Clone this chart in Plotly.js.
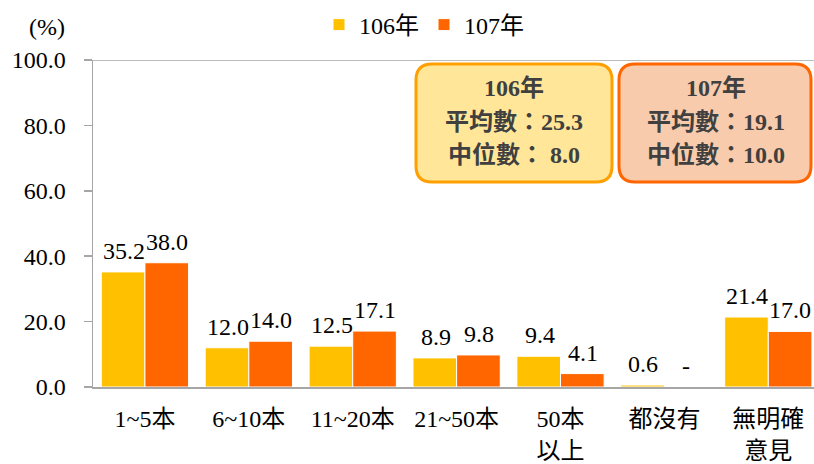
<!DOCTYPE html>
<html>
<head>
<meta charset="utf-8">
<script src="https://cdn.plot.ly/plotly-3.0.1.min.js"></script>
<style>html,body{margin:0;padding:0;background:#fff;}#chart{width:814px;height:464px;}</style>
</head>
<body>
<div id="chart"></div>
<script>
const categories = ["1~5本", "6~10本", "11~20本", "21~50本", "50本<br>以上", "都沒有", "無明確<br>意見"];
const values106 = [35.2, 12.0, 12.5, 8.9, 9.4, 0.6, 21.4];
const values107 = [38.0, 14.0, 17.1, 9.8, 4.1, 0, 17.0];
const labels106 = ["35.2", "12.0", "12.5", "8.9", "9.4", "0.6", "21.4"];
const labels107 = ["38.0", "14.0", "17.1", "9.8", "4.1", "-", "17.0"];
const seriesNames = ["106年", "107年"];
const yTicks = [0, 20, 40, 60, 80, 100];
const yTickText = ["0.0", "20.0", "40.0", "60.0", "80.0", "100.0"];
const box106Lines = ["106年", "平均數：25.3", "中位數： 8.0"];
const box107Lines = ["107年", "平均數：19.1", "中位數：10.0"];

const serif = "'Liberation Serif', 'Times New Roman', 'Noto Sans CJK TC', serif";
const C106 = "#FFC000", C107 = "#FF6600";

const traces = [
  {type: "bar", name: seriesNames[0], x: categories, y: values106,
   marker: {color: C106, line: {color: "#ffffff", width: 1}}, hoverinfo: "none"},
  {type: "bar", name: seriesNames[1], x: categories, y: values107,
   marker: {color: C107, line: {color: "#ffffff", width: 1}}, hoverinfo: "none"}
];

const annotations = [];
categories.forEach((c, i) => {
  annotations.push({x: c, y: values106[i], xref: "x", yref: "y", text: labels106[i], showarrow: false,
    xshift: -21, yshift: 6, yanchor: "bottom", xanchor: "center", font: {family: serif, size: 24, color: "#000"}});
  annotations.push({x: c, y: values107[i], xref: "x", yref: "y", text: labels107[i], showarrow: false,
    xshift: 22, yshift: 6, yanchor: "bottom", xanchor: "center", font: {family: serif, size: 24, color: "#000"}});
});

// pixel helpers -> paper
const L = 93, T = 60, W = 721, H = 327;
const px = x => (x - L) / W;
const py = y => (T + H - y) / H;

annotations.push({x: px(47), y: py(27), xref: "paper", yref: "paper", text: "(%)", showarrow: false,
  xanchor: "center", yanchor: "middle", font: {family: serif, size: 24, color: "#000"}});

const boxLineY = [88, 122, 154];
box106Lines.forEach((t, i) => annotations.push({x: px(514), y: py(boxLineY[i]), xref: "paper", yref: "paper",
  xanchor: "center", yanchor: "middle",
  text: "<b>" + t + "</b>", showarrow: false, font: {family: serif, size: 24, color: "#404040"}}));
box107Lines.forEach((t, i) => annotations.push({x: px(716), y: py(boxLineY[i]), xref: "paper", yref: "paper",
  xanchor: "center", yanchor: "middle",
  text: "<b>" + t + "</b>", showarrow: false, font: {family: serif, size: 24, color: "#404040"}}));

function roundRect(x0p, y0p, x1p, y1p, r) {
  const x0 = px(x0p), x1 = px(x1p), y0 = py(y1p), y1 = py(y0p);
  const rx = r / W, ry = r / H;
  return `M ${x0+rx},${y1} L ${x1-rx},${y1} Q ${x1},${y1} ${x1},${y1-ry} L ${x1},${y0+ry} Q ${x1},${y0} ${x1-rx},${y0} L ${x0+rx},${y0} Q ${x0},${y0} ${x0},${y0+ry} L ${x0},${y1-ry} Q ${x0},${y1} ${x0+rx},${y1} Z`;
}

const shapes = [
  {type: "line", xref: "paper", yref: "y", x0: 0, x1: 1, y0: 100, y1: 100, line: {color: "#a6a6a6", width: 1.5}},
  {type: "path", xref: "paper", yref: "paper", path: roundRect(416, 64, 612, 182, 16),
   fillcolor: "#FFE699", line: {color: "#FFA000", width: 3}},
  {type: "path", xref: "paper", yref: "paper", path: roundRect(619, 64, 811, 182, 16),
   fillcolor: "#F8CBAD", line: {color: "#FF6600", width: 3}}
];

const layout = {
  width: 814, height: 464,
  margin: {l: L, r: 0, t: T, b: 464 - T - H, pad: 0},
  paper_bgcolor: "#fff", plot_bgcolor: "#fff",
  barmode: "group", bargap: 0.16, bargroupgap: 0,
  showlegend: true,
  legend: {orientation: "h", x: px(424), xanchor: "center", y: py(25), yanchor: "middle",
    font: {family: serif, size: 24, color: "#000"}, itemwidth: 30, bgcolor: "rgba(0,0,0,0)"},
  xaxis: {type: "category", range: [-0.5, 6.44], showgrid: false, showline: true, linecolor: "#a6a6a6", linewidth: 1.5,
    ticks: "", ticklabelstandoff: 10, tickfont: {family: serif, size: 24, color: "#000"}, zeroline: false, fixedrange: true},
  yaxis: {range: [0, 100], tickvals: yTicks, ticktext: yTickText, showgrid: false, zeroline: false,
    showline: true, linecolor: "#a6a6a6", linewidth: 1.5, ticks: "outside", ticklen: 8, tickcolor: "#a6a6a6", tickwidth: 1.5,
    ticklabelstandoff: 13, tickfont: {family: serif, size: 24, color: "#000"}, fixedrange: true},
  annotations: annotations,
  shapes: shapes
};

Plotly.newPlot("chart", traces, layout, {displayModeBar: false, staticPlot: true});
</script>
</body>
</html>
